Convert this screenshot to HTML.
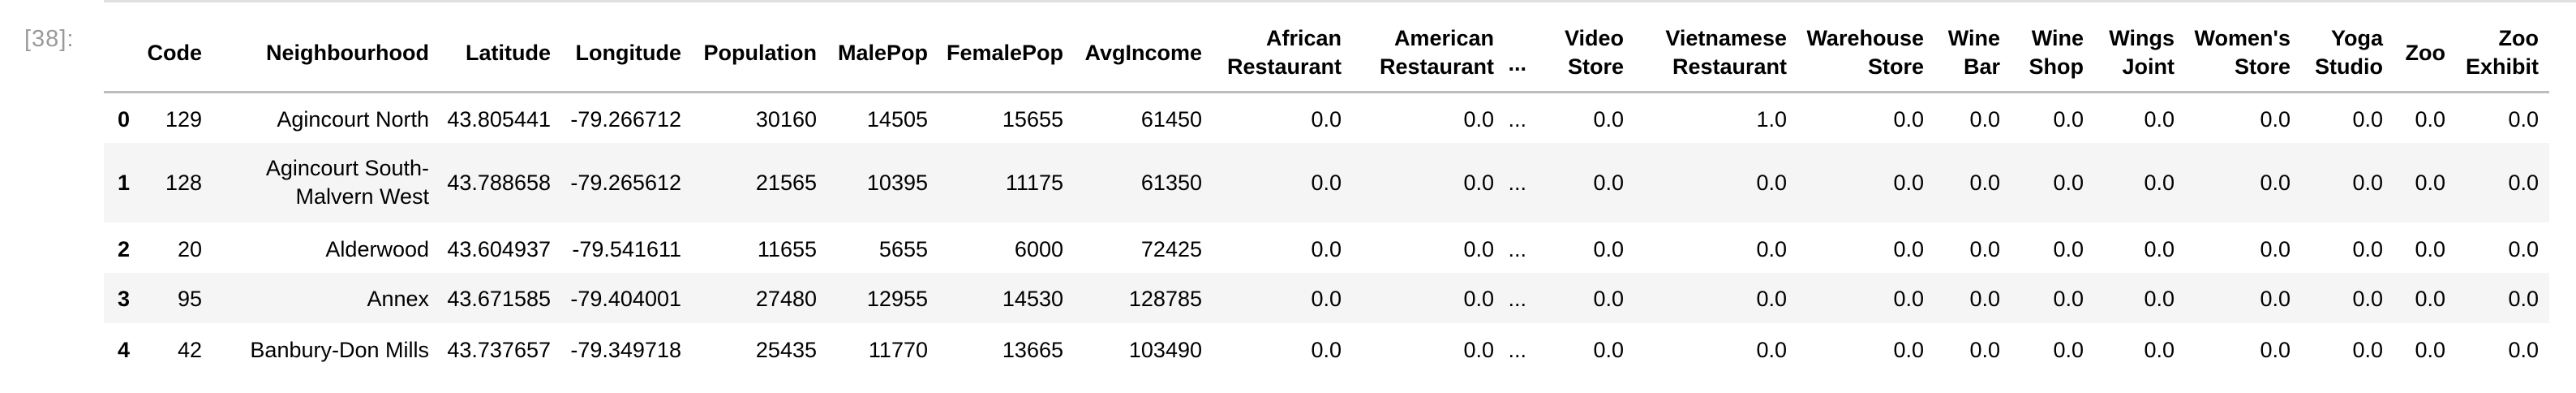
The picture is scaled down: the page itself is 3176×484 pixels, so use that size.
<!DOCTYPE html>
<html><head><meta charset="utf-8">
<style>
html,body{margin:0;padding:0;background:#fff;width:3176px;height:484px;overflow:hidden;position:relative;font-family:"Liberation Sans",sans-serif;}
.c{position:absolute;white-space:nowrap;text-align:right;font-size:27px;line-height:35px;color:#000;}
.h{font-weight:bold;}
.band{position:absolute;left:128px;width:3015px;background:#f5f5f5;}
</style></head><body>
<div style="position:absolute;left:128px;top:0;width:3048px;height:3px;background:#e0e0e0"></div>
<div style="position:absolute;left:30px;top:32px;font-size:29px;color:#9a9a9a;letter-spacing:1px">[38]:</div>
<div class="band" style="top:176px;height:98px"></div>
<div class="band" style="top:336px;height:62px"></div>
<div style="position:absolute;left:128px;top:112px;width:3015px;height:3px;background:#bdbdbd"></div>
<div id="t"></div>
<script>
const headers=["Code","Neighbourhood","Latitude","Longitude","Population","MalePop","FemalePop","AvgIncome","African<br>Restaurant","American<br>Restaurant","...","Video<br>Store","Vietnamese<br>Restaurant","Warehouse<br>Store","Wine<br>Bar","Wine<br>Shop","Wings<br>Joint","Women's<br>Store","Yoga<br>Studio","Zoo","Zoo<br>Exhibit"];
const rights=[249,529,679,840,1007,1144,1311,1482,1654,1842,1882,2002,2203,2372,2466,2569,2681,2824,2938,3015,3130];
const rowIdx=["0","1","2","3","4"];
const rowY=[147,225,307,368,431];
const rows=[
["129","Agincourt North","43.805441","-79.266712","30160","14505","15655","61450","0.0","0.0","...","0.0","1.0","0.0","0.0","0.0","0.0","0.0","0.0","0.0","0.0"],
["128","Agincourt South-<br>Malvern West","43.788658","-79.265612","21565","10395","11175","61350","0.0","0.0","...","0.0","0.0","0.0","0.0","0.0","0.0","0.0","0.0","0.0","0.0"],
["20","Alderwood","43.604937","-79.541611","11655","5655","6000","72425","0.0","0.0","...","0.0","0.0","0.0","0.0","0.0","0.0","0.0","0.0","0.0","0.0"],
["95","Annex","43.671585","-79.404001","27480","12955","14530","128785","0.0","0.0","...","0.0","0.0","0.0","0.0","0.0","0.0","0.0","0.0","0.0","0.0"],
["42","Banbury-Don Mills","43.737657","-79.349718","25435","11770","13665","103490","0.0","0.0","...","0.0","0.0","0.0","0.0","0.0","0.0","0.0","0.0","0.0","0.0"]];
const t=document.getElementById('t');
function cell(html,right,cy,bold){
  const d=document.createElement('div');
  d.className='c'+(bold?' h':'');
  d.innerHTML=html;
  const lines=html.split('<br>').length;
  d.style.right=(3176-right)+'px';
  d.style.top=(cy-lines*35/2)+'px';
  t.appendChild(d);return d;
}
headers.forEach((h,i)=>{
  const d=cell(h,rights[i],h==='...'?78:65,true);
  
  
});
rows.forEach((r,ri)=>{
  const ix=cell(rowIdx[ri],160,rowY[ri],true);
  
  
  r.forEach((v,ci)=>{
    const d=cell(v,rights[ci],rowY[ri],false);
    
    
  });
});
</script>
</body></html>
